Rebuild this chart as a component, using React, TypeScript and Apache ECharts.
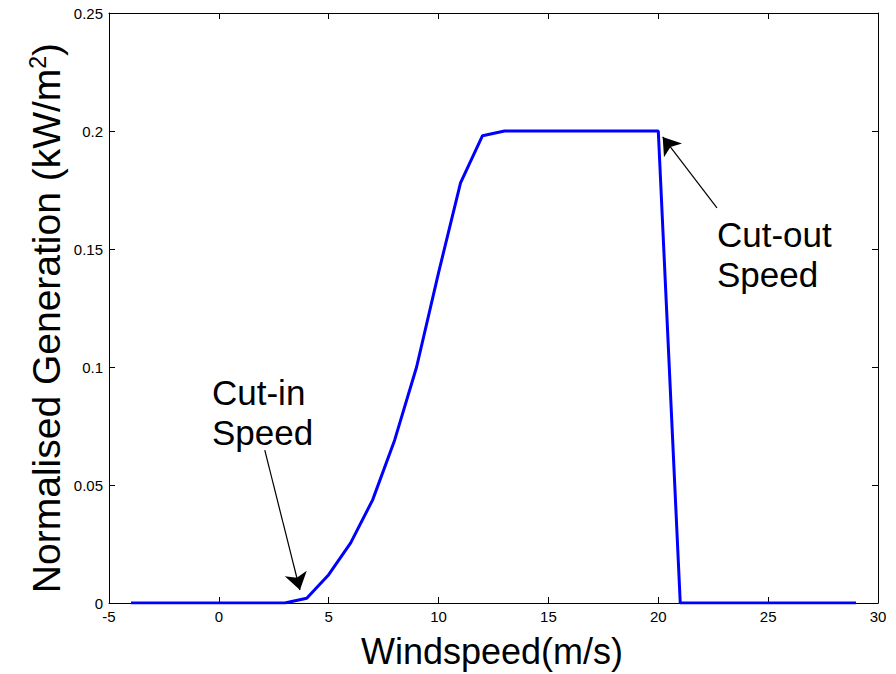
import React, { useEffect, useRef } from "react";
import * as echarts from "echarts";

// Wind turbine power curve: wind speed (m/s) vs normalised output (kW/m^2)
const windSpeeds = [
  -4, -3, -2, -1, 0, 1, 2, 3, 4, 5, 6, 7, 8, 9, 10, 11, 12, 13, 14, 15, 16,
  17, 18, 19, 20, 21, 22, 23, 24, 25, 26, 27, 28, 29,
];
const generation = [
  0, 0, 0, 0, 0, 0, 0, 0, 0.002, 0.012, 0.0255, 0.0437, 0.069, 0.1, 0.14,
  0.178, 0.198, 0.2, 0.2, 0.2, 0.2, 0.2, 0.2, 0.2, 0.2, 0, 0, 0, 0, 0, 0, 0,
  0, 0,
];

// Annotation arrows, in data coordinates: [tail, head]
const cutInArrow = [
  [2.09, 0.0648],
  [3.69, 0.0055],
];
const cutOutArrow = [
  [22.67, 0.1674],
  [20.2, 0.1975],
];

const FONT = "'Liberation Sans', Arial, Helvetica, sans-serif";

export default function App() {
  const ref = useRef<HTMLDivElement>(null);

  useEffect(() => {
    if (!ref.current) return;
    const chart = echarts.init(ref.current, null, { renderer: "svg" });

    const axisLine = { show: true, onZero: false, lineStyle: { color: "#000", width: 1 } };
    const tick = { show: true, inside: true, length: 6, lineStyle: { color: "#000" } };
    const tickLabel = { color: "#000", fontSize: 15, fontFamily: FONT };

    const arrowLine = (pts: number[][]) => [
      { coord: pts[0], symbol: "none" },
      { coord: pts[1], symbol: "arrow", symbolSize: [17, 17] },
    ];

    chart.setOption({
      animation: false,
      backgroundColor: "#fff",
      grid: { left: 109, right: 18, top: 13, bottom: 71, containLabel: false },
      xAxis: [
        {
          type: "value",
          min: -5,
          max: 30,
          interval: 5,
          axisLine,
          axisTick: tick,
          axisLabel: { ...tickLabel, margin: 6 },
          splitLine: { show: false },
        },
        {
          type: "value",
          position: "top",
          min: -5,
          max: 30,
          interval: 5,
          axisLine,
          axisTick: tick,
          axisLabel: { show: false },
          splitLine: { show: false },
        },
      ],
      yAxis: [
        {
          type: "value",
          min: 0,
          max: 0.25,
          interval: 0.05,
          axisLine,
          axisTick: tick,
          axisLabel: { ...tickLabel, margin: 6 },
          splitLine: { show: false },
        },
        {
          type: "value",
          position: "right",
          min: 0,
          max: 0.25,
          interval: 0.05,
          axisLine,
          axisTick: tick,
          axisLabel: { show: false },
          splitLine: { show: false },
        },
      ],
      series: [
        {
          type: "line",
          data: windSpeeds.map((x, i) => [x, generation[i]]),
          showSymbol: false,
          lineStyle: { color: "#0000ff", width: 3 },
          itemStyle: { color: "#0000ff" },
          markLine: {
            silent: true,
            animation: false,
            label: { show: false },
            lineStyle: { color: "#000", width: 1.2, type: "solid" },
            emphasis: { disabled: true },
            data: [arrowLine(cutInArrow), arrowLine(cutOutArrow)],
          },
        },
      ],
      graphic: [
        {
          type: "text",
          x: 492,
          y: 651,
          style: {
            text: "Windspeed(m/s)",
            align: "center",
            verticalAlign: "middle",
            fontSize: 36,
            fontFamily: FONT,
            fill: "#000",
          },
        },
        {
          type: "text",
          x: 46,
          y: 318,
          rotation: Math.PI / 2,
          style: {
            text: "Normalised Generation (kW/m{sup|2})",
            align: "center",
            verticalAlign: "middle",
            fontSize: 39,
            fontFamily: FONT,
            fill: "#000",
            rich: {
              sup: {
                fontSize: 23,
                fontFamily: FONT,
                fill: "#000",
                verticalAlign: "top",
                padding: [0, 0, 16, 0],
              },
            },
          },
        },
        {
          type: "text",
          x: 212,
          y: 372,
          style: {
            text: "Cut-in\nSpeed",
            fontSize: 35,
            lineHeight: 40,
            fontFamily: FONT,
            fill: "#000",
          },
        },
        {
          type: "text",
          x: 717,
          y: 214,
          style: {
            text: "Cut-out\nSpeed",
            fontSize: 35,
            lineHeight: 40,
            fontFamily: FONT,
            fill: "#000",
          },
        },
      ],
    });

    return () => chart.dispose();
  }, []);

  return <div ref={ref} style={{ width: 896, height: 674, position: "absolute", left: 0, top: 0 }} />;
}
